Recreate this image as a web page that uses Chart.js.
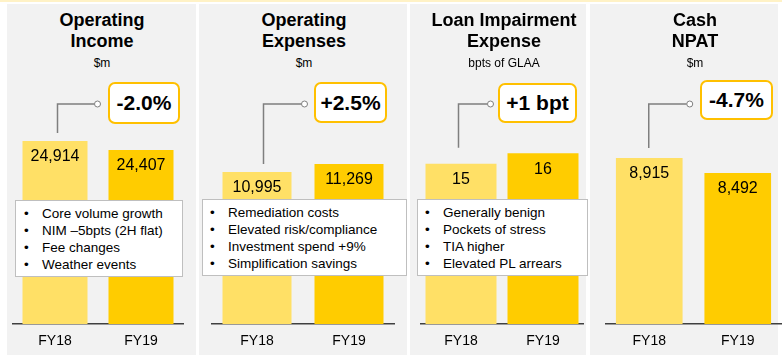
<!DOCTYPE html>
<html>
<head>
<meta charset="utf-8">
<script src="https://cdn.jsdelivr.net/npm/chart.js@4/dist/chart.umd.min.js"></script>
<style>
  html, body { margin:0; padding:0; background:#ffffff; }
  body { width:782px; height:355px; position:relative; overflow:hidden; font-family:'Liberation Sans', Arial, sans-serif; color:#000; }
  .topline { position:absolute; left:0; top:0; width:782px; height:2px; background:#FFF2C6; }
  .panel { position:absolute; top:4px; height:351px; background:#F2F2F2; }
  .title { position:absolute; top:10px; width:200px; text-align:center; font-weight:bold; font-size:18px; line-height:21px; }
  .unit { position:absolute; top:56px; width:200px; text-align:center; font-size:12px; line-height:14px; }
  canvas { position:absolute; }
  .delta { position:absolute; box-sizing:border-box; border:2.5px solid #FFC000; border-radius:7px; background:#fff;
           display:flex; align-items:center; justify-content:center; font-weight:bold; font-size:21px; }
  .notes { position:absolute; box-sizing:border-box; border:1px solid #BFBFBF; background:#fff; padding-top:3.5px; }
  .notes div { position:relative; font-size:13.5px; line-height:17.3px; white-space:nowrap; }
  .notes span { position:absolute; }
</style>
</head>
<body>
<div class="topline"></div>
<div id="root"></div>
<script>
// ---- data ----
const categories = ['FY18', 'FY19'];
const operatingIncome = [24914, 24407];
const operatingExpenses = [10995, 11269];
const loanImpairment = [15, 16];
const cashNpat = [8915, 8492];
const panelTitles = [['Operating', 'Income'], ['Operating', 'Expenses'], ['Loan Impairment', 'Expense'], ['Cash', 'NPAT']];
const panelUnits = ['$m', '$m', 'bpts of GLAA', '$m'];
const changeLabels = ['-2.0%', '+2.5%', '+1 bpt', '-4.7%'];
const incomeNotes = ['Core volume growth', 'NIM \u20135bpts (2H flat)', 'Fee changes', 'Weather events'];
const expenseNotes = ['Remediation costs', 'Elevated risk/compliance', 'Investment spend +9%', 'Simplification savings'];
const impairmentNotes = ['Generally benign', 'Pockets of stress', 'TIA higher', 'Elevated PL arrears'];

const seriesList = [operatingIncome, operatingExpenses, loanImpairment, cashNpat];
const notesList = [incomeNotes, expenseNotes, impairmentNotes, null];

// ---- layout / style ----
const FONT = "'Liberation Sans', Arial, sans-serif";
const barColors = ['#FFE066', '#FFCC00'];
const panels = [
  { bg:[7,189],   titleC:102, canvas:[12,172],  barPct:0.756, yMin:14605, yMax:30604,
    delta:[108,82,72,42], notes:[15,200,168,77,9,27],  conn:{dx:2.5, gap:8,  len:40} },
  { bg:[199,208], titleC:304, canvas:[211,184], barPct:0.75,  yMin:5789,  yMax:15516,
    delta:[314,82,73,41], notes:[202,199,205,77,8,26], conn:{dx:6.5, gap:8,  len:41} },
  { bg:[410,176], titleC:504, canvas:[420,164], barPct:0.866, yMin:0,     yMax:26.6,
    delta:[498,83,79,40], notes:[417,199,171,77,8,26], conn:{dx:-2.5, gap:16, len:32} },
  { bg:[590,188], titleC:695, canvas:[605,177], barPct:0.753, yMin:4234,  yMax:12242,
    delta:[700,80,73,40], notes:null,                  conn:{dx:-0.5, gap:10, len:41} }
];
const CANVAS_TOP = 40, CANVAS_H = 315, CONN_TOP = 104 - CANVAS_TOP;

const root = document.getElementById('root');
function el(tag, cls, style, html) {
  const e = document.createElement(tag);
  if (cls) e.className = cls;
  Object.assign(e.style, style || {});
  if (html != null) e.innerHTML = html;
  root.appendChild(e);
  return e;
}

const valueLabels = {
  id: 'valueLabels',
  afterDatasetsDraw(chart) {
    const ctx = chart.ctx;
    const ds = chart.data.datasets[0];
    chart.getDatasetMeta(0).data.forEach((bar, i) => {
      ctx.save();
      ctx.font = '16px ' + FONT;
      ctx.fillStyle = '#000';
      ctx.textAlign = 'center';
      ctx.textBaseline = 'middle';
      ctx.fillText(ds.data[i].toLocaleString('en-US'), bar.x, bar.y + 16);
      ctx.restore();
    });
    // connector from FY18 bar to the change box
    const c = chart.options.plugins.connector;
    const b0 = chart.getDatasetMeta(0).data[0];
    const x = b0.x + c.dx;
    ctx.save();
    ctx.strokeStyle = '#7F7F7F';
    ctx.lineWidth = 1.5;
    ctx.beginPath();
    ctx.moveTo(x, b0.y - c.gap);
    ctx.lineTo(x, CONN_TOP);
    ctx.lineTo(x + c.len - 3, CONN_TOP);
    ctx.stroke();
    ctx.lineWidth = 1;
    ctx.fillStyle = '#fff';
    ctx.beginPath();
    ctx.arc(x + c.len, CONN_TOP, 3, 0, Math.PI * 2);
    ctx.fill();
    ctx.stroke();
    ctx.restore();
  }
};

panels.forEach((p, k) => {
  el('div', 'panel', { left:p.bg[0] + 'px', width:p.bg[1] + 'px' });
  el('div', 'title', { left:(p.titleC - 100) + 'px' }, panelTitles[k].join('<br>'));
  el('div', 'unit', { left:(p.titleC - 100) + 'px' }, panelUnits[k]);

  const cv = el('canvas', null, { left:p.canvas[0] + 'px', top:CANVAS_TOP + 'px' });
  cv.width = p.canvas[1]; cv.height = CANVAS_H;
  cv.style.width = p.canvas[1] + 'px'; cv.style.height = CANVAS_H + 'px';

  new Chart(cv.getContext('2d'), {
    type: 'bar',
    data: {
      labels: categories,
      datasets: [{ data: seriesList[k], backgroundColor: barColors, borderWidth: 0,
                   barPercentage: p.barPct, categoryPercentage: 1 }]
    },
    options: {
      responsive: false, animation: false, devicePixelRatio: 1,
      layout: { padding: 0 },
      plugins: { legend: { display:false }, tooltip: { enabled:false }, connector: p.conn },
      scales: {
        x: {
          grid: { display:false, drawTicks:false },
          border: { display:true, color:'#404040', width:1.5 },
          ticks: { color:'#000', font:{ family:FONT, size:14 }, padding:9 },
          afterFit(s) { s.height = 31; }
        },
        y: { display:false, min:p.yMin, max:p.yMax }
      }
    },
    plugins: [valueLabels]
  });

  const d = p.delta;
  el('div', 'delta', { left:d[0] + 'px', top:d[1] + 'px', width:d[2] + 'px', height:d[3] + 'px' }, changeLabels[k]);

  if (notesList[k]) {
    const n = p.notes;
    const box = el('div', 'notes', { left:n[0] + 'px', top:n[1] + 'px', width:n[2] + 'px', height:n[3] + 'px' });
    notesList[k].forEach(t => {
      const line = document.createElement('div');
      line.innerHTML = '<span style="left:' + (n[4] - 1) + 'px">\u2022</span><span style="left:' + (n[5] - 1) + 'px">' + t + '</span>';
      line.style.height = '17.3px';
      box.appendChild(line);
    });
  }
});
</script>
</body>
</html>
